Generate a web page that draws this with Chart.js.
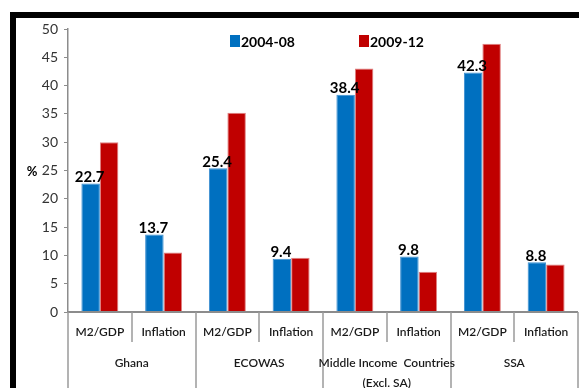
<!DOCTYPE html>
<html>
<head>
<meta charset="utf-8">
<script src="https://cdn.jsdelivr.net/npm/chart.js@4"></script>
<style>
  html, body { margin: 0; padding: 0; background: #fff; }
  #wrap { width: 579px; height: 388px; }
</style>
</head>
<body>
<div id="wrap"><canvas id="chart" width="579" height="388"></canvas></div>
<script>
//categories (two levels)
const measures = ["M2/GDP", "Inflation", "M2/GDP", "Inflation", "M2/GDP", "Inflation", "M2/GDP", "Inflation"];
const groups = [["Ghana"], ["ECOWAS"], ["Middle Income  Countries", "(Excl. SA)"], ["SSA"]];
//series values
const period1 = [22.7, 13.7, 25.4, 9.4, 38.4, 9.8, 42.3, 8.8];
const period2 = [30.0, 10.5, 35.2, 9.6, 43.0, 7.1, 47.4, 8.4];
const seriesNames = ["2004-08", "2009-12"];
const seriesColors = ["#0070C0", "#C00000"];

const FONT = "Lato, 'Liberation Sans', sans-serif";

//frame, legend, axis title, two level labels and value labels
const decor = {
  id: "decor",
  beforeDraw(chart) {
    const c = chart.ctx;
    c.save();
    c.fillStyle = "#000";
    c.fillRect(10, 12, 569, 6);
    c.fillRect(10, 12, 6, 376);
    c.restore();
  },
  afterDraw(chart) {
    const c = chart.ctx;
    const x = chart.scales.x;
    const area = chart.chartArea;
    const half = (x.getPixelForValue(1) - x.getPixelForValue(0)) / 2;
    c.save();
    //axis line
    c.strokeStyle = "#8c8c8c";
    c.lineWidth = 2;
    c.beginPath();
    c.moveTo(area.left, area.bottom);
    c.lineTo(area.right, area.bottom);
    c.stroke();
    //separators
    c.lineWidth = 1.5;
    c.strokeStyle = "#9a9a9a";
    for (let i = 0; i <= measures.length; i++) {
      const px = Math.round(x.getPixelForValue(i) - half);
      c.beginPath();
      c.moveTo(px, area.bottom);
      c.lineTo(px, i % 2 === 0 ? 388 : area.bottom + 30);
      c.stroke();
    }
    //labels
    c.fillStyle = "#1a1a1a";
    c.textAlign = "center";
    c.textBaseline = "middle";
    c.font = "600 12px " + FONT;
    measures.forEach((m, i) => c.fillText(m, x.getPixelForValue(i), area.bottom + 20));
    groups.forEach((g, i) => {
      const px = (x.getPixelForValue(2 * i) + x.getPixelForValue(2 * i + 1)) / 2;
      g.forEach((line, j) => c.fillText(line, px, area.bottom + 51 + j * 20));
    });
    //value labels above first series
    c.fillStyle = "#000";
    c.font = "bold 15px " + FONT;
    c.textBaseline = "bottom";
    chart.getDatasetMeta(0).data.forEach((bar, i) => {
      c.fillText(period1[i].toFixed(1), bar.x - 1, bar.y + 1);
    });
    //y title
    c.font = "bold 13px " + FONT;
    c.textBaseline = "middle";
    c.fillText("%", 32, 172);
    //legend
    const legendX = [230, 359];
    c.textAlign = "left";
    c.font = "bold 14px " + FONT;
    seriesNames.forEach((name, i) => {
      c.fillStyle = seriesColors[i];
      c.fillRect(legendX[i], 35, 10, 12);
      c.fillStyle = "#000";
      c.fillText(name, legendX[i] + 11, 42);
    });
    c.restore();
  }
};

new Chart(document.getElementById("chart"), {
  type: "bar",
  plugins: [decor],
  data: {
    labels: measures,
    datasets: [
      { label: seriesNames[0], data: period1, backgroundColor: seriesColors[0], borderColor: "#3a8ed0", borderWidth: 1 },
      { label: seriesNames[1], data: period2, backgroundColor: seriesColors[1], borderColor: "#e08080", borderWidth: 1 }
    ]
  },
  options: {
    responsive: false,
    animation: false,
    layout: { padding: { left: 0, top: 29, right: 1, bottom: 76 } },
    datasets: { bar: { categoryPercentage: 0.58, barPercentage: 1 } },
    plugins: { legend: { display: false }, tooltip: { enabled: false } },
    scales: {
      x: { display: false },
      y: {
        min: 0,
        max: 50,
        afterFit: (s) => { s.width = 68; },
        ticks: { stepSize: 5, padding: 6, color: "#333", font: { family: FONT, size: 14 } },
        grid: { drawOnChartArea: false, tickLength: 4, color: "#8c8c8c" },
        border: { color: "#8c8c8c", width: 1.5 }
      }
    }
  }
});
</script>
</body>
</html>
